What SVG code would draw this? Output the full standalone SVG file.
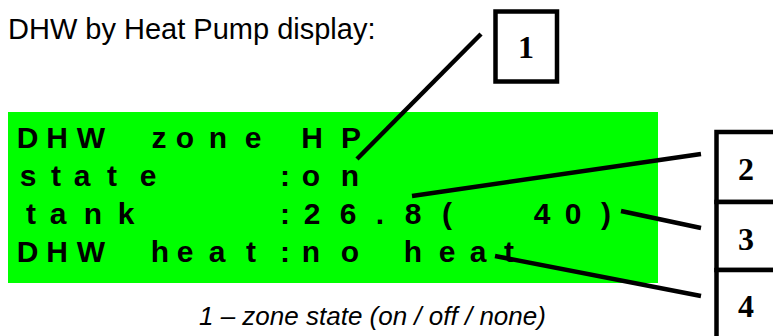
<svg xmlns="http://www.w3.org/2000/svg" width="773" height="336" viewBox="0 0 773 336">
<style>
.title{font-family:"Liberation Sans",Arial,sans-serif;font-size:29px;fill:#000}
.cap{font-family:"Liberation Sans",Arial,sans-serif;font-size:26px;font-style:italic;fill:#000}
.lcd{font-family:"Liberation Sans",Arial,sans-serif;font-size:30px;font-weight:bold;fill:#000;text-anchor:middle;white-space:pre}
.box{fill:#fff;stroke:#000;stroke-width:4.5}
.num{font-family:"Liberation Serif","Times New Roman",serif;font-size:32px;font-weight:bold;fill:#000;text-anchor:middle}
.lead{stroke:#000;stroke-width:4.5;fill:none}
</style>
<rect width="773" height="336" fill="#fff"/>
<text class="title" x="8" y="39">DHW by Heat Pump display:</text>
<g id="display">
<rect x="8" y="112" width="650" height="171" fill="#00ff00"/>
<text class="lcd" xml:space="preserve" y="148" x="27.5 57 91 125 159 185 218 253 283 312 351">DHW zone HP</text>
<text class="lcd" xml:space="preserve" y="186" x="28 56 82 112 148 182 216 250 285 311 350">state   :on</text>
<text class="lcd" xml:space="preserve" y="224" x="31 58 93 126 158 190 222 254 285 312 348 380 413 447 478 510 542 573 606">tank    :26.8(  40)</text>
<text class="lcd" xml:space="preserve" y="262" x="27.5 57 91 125 160 185 217 251 285 311 350 381 413 447 478 509">DHW heat:no heat</text>
</g>
<g id="callout1">
<rect class="box" x="495.5" y="11.5" width="61.5" height="70"/>
<text class="num" x="526" y="58">1</text>
</g>
<g id="callout2">
<rect class="box" x="716.5" y="132" width="62" height="70"/>
<text class="num" x="746" y="180">2</text>
</g>
<g id="callout3">
<rect class="box" x="716.5" y="202" width="62" height="68"/>
<text class="num" x="746" y="250">3</text>
</g>
<g id="callout4">
<rect class="box" x="716.5" y="270" width="62" height="72"/>
<text class="num" x="746" y="317">4</text>
</g>
<g id="connectors">
<line class="lead" x1="357" y1="159" x2="481" y2="34"/>
<line class="lead" x1="412" y1="196" x2="701" y2="154"/>
<line class="lead" x1="621" y1="211" x2="701" y2="228"/>
<line class="lead" x1="495" y1="256" x2="701" y2="296"/>
</g>
<text class="cap" x="199" y="325">1 – zone state (on / off / none)</text>
</svg>
